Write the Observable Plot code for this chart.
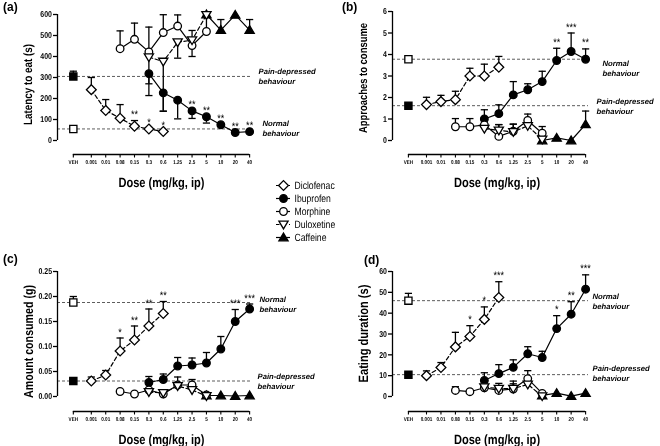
<!DOCTYPE html>
<html><head><meta charset="utf-8">
<script src="https://cdn.jsdelivr.net/npm/d3@7"></script>
<script src="https://cdn.jsdelivr.net/npm/@observablehq/plot@0.6"></script>
<style>
body{margin:0;background:#fff;}
#fig{position:relative;width:660px;height:446px;overflow:hidden;background:#fff;}
#fig .pl{position:absolute;will-change:transform;}
#fig .pl svg{overflow:visible;}
#fig text{text-rendering:geometricPrecision;}
#fig .lab{position:absolute;font-family:'Liberation Sans',Arial,sans-serif;font-weight:bold;font-size:12px;line-height:12px;}
</style></head><body><div id="fig"></div>
<script>
const FONT = "'Liberation Sans',Arial,sans-serif";
const NARROW = 0.82; // horizontal compression of the reference lettering

// ---------- categories ----------
const doseLabels = ["VEH","0.001","0.01","0.08","0.15","0.3","0.6","1.25","2.5","5","10","20","40"];
const seriesNames = ["Diclofenac","Ibuprofen","Morphine","Duloxetine","Caffeine"];
const dicDoses = ["0.001","0.01","0.08","0.15","0.3","0.6"];
const ibuDoses = ["0.3","0.6","1.25","2.5","5","10","20","40"];
const morDoses = ["0.08","0.15","0.3","0.6","1.25","2.5","5"];
const dulDoses = ["0.3","0.6","1.25","2.5","5"];
const cafDoses = ["5","10","20","40"];

// ---------- (a) Latency to eat (s) ----------
const yTicksA = [0,100,200,300,400,500,600];
const vehA = [55, 305];            // [normal (sham), pain-depressed]
const vehErrA = [0, 25];
const dicA = [242, 143, 106, 68, 55, 43];
const dicErrA = [58, 52, 65, 27, 0, 0];
const dicStarsA = ["","","","**","*","*"];
const ibuA = [318, 227, 192, 141, 113, 75, 38, 42];
const ibuErrA = [-104, -88, -89, -36, -30, 0, 0, 0];
const ibuStarsA = ["","","","**","**","**","**","**"];
const morA = [437, 482, 422, 514, 545, 452, 519];
const morErrA = [85, 77, 118, 85, 53, 72, 80];
const dulA = [397, 376, 468, 478, 598];
const dulErrA = [-127, -236, -76, -78, 0];
const cafA = [600, 526, 598, 526];
const cafErrA = [0, 50, 0, 50];

// ---------- (b) Approaches to consume ----------
const yTicksB = [0,1,2,3,4,5,6];
const vehB = [3.78, 1.62];
const vehErrB = [0.08, 0];
const dicB = [1.67, 1.81, 1.9, 3.0, 3.0, 3.41];
const dicErrB = [0.34, 0.29, 0.39, 0.36, 0.55, 0.5];
const ibuB = [1.0, 1.25, 2.12, 2.36, 2.74, 3.72, 4.14, 3.78];
const ibuErrB = [0.43, 0.41, 0.62, 0.28, 0.48, 0.57, 0.86, 0.48];
const ibuStarsB = ["","","","","","**","***","**"];
const morB = [0.64, 0.64, 0.73, 0.19, 0.43, 0.93, 0.34];
const morErrB = [0.38, 0.38, 0.3, 0.55, 0.33, 0.3, 0.31];
const dulB = [0.55, 0.47, 0.4, 0.68, 0.05];
const dulErrB = [0.2, 0.27, 0.36, 0.3, 0];
const cafB = [0.0, 0.12, 0.0, 0.75];
const cafErrB = [0, 0, 0, 0.62];

// ---------- (c) Amount consumed (g) ----------
const yTicksC = [0,0.05,0.10,0.15,0.20,0.25];
const vehC = [0.188, 0.031];
const vehErrC = [0.012, 0.004];
const dicC = [0.031, 0.043, 0.091, 0.113, 0.141, 0.166];
const dicErrC = [0.008, 0.009, 0.026, 0.028, 0.034, 0.024];
const dicStarsC = ["","","*","**","**","**"];
const ibuC = [0.028, 0.034, 0.061, 0.063, 0.067, 0.095, 0.15, 0.175];
const ibuErrC = [0.012, 0.011, 0.017, 0.014, 0.021, 0.025, 0.024, 0.01];
const ibuStarsC = ["","","","","","","***","***"];
const morC = [0.01, 0.005, 0.013, 0.005, 0.023, 0.023, 0.003];
const morErrC = [0, 0, 0, 0, 0.016, 0.011, 0];
const dulC = [0.009, 0.007, 0.021, 0.013, 0.001];
const dulErrC = [0.005, 0.004, 0.005, 0.01, 0];
const cafC = [0.002, 0.002, 0.001, 0.002];
const cafErrC = [0, 0, 0, 0];

// ---------- (d) Eating duration (s) ----------
const yTicksD = [0,10,20,30,40,50,60];
const vehD = [46, 10.5];
const vehErrD = [3.5, 1];
const dicD = [10, 13.9, 23.8, 28.8, 37, 47.5];
const dicErrD = [2.3, 2.4, 7, 5.2, 6, 7.6];
const dicStarsD = ["","","","*","*","***"];
const ibuD = [7.7, 11, 14, 20.5, 18.7, 32.6, 39.5, 51.5];
const ibuErrD = [3.7, 4.3, 3.6, 3.4, 3, 6.2, 6, 6.9];
const ibuStarsD = ["","","","","","*","**","***"];
const morD = [2.9, 2.3, 4.2, 2.9, 3.6, 8.6, 1.5];
const morErrD = [1.8, 0, 0, 2, 2.5, 3.8, 0];
const dulD = [4.5, 3.8, 3.8, 5.8, 0.2];
const dulErrD = [1.5, 2.5, 3.6, 2, 0];
const cafD = [0.5, 1.6, 0.2, 1.6];
const cafErrD = [0, 0, 0, 0];

// ---------- symbols ----------
const sym = f => ({draw(c){ f(c); }});
const CIRCLE = sym(c => { c.moveTo(3.8,0); c.arc(0,0,3.8,0,2*Math.PI); });
const SQUARE = sym(c => { c.moveTo(-3.6,-3.6); c.lineTo(3.6,-3.6); c.lineTo(3.6,3.6); c.lineTo(-3.6,3.6); c.closePath(); });
const DIAMOND = sym(c => { c.moveTo(0,-4.9); c.lineTo(4.9,0); c.lineTo(0,4.9); c.lineTo(-4.9,0); c.closePath(); });
const TRI_UP = sym(c => { c.moveTo(0,-4.4); c.lineTo(4.6,3.3); c.lineTo(-4.6,3.3); c.closePath(); });
const TRI_DOWN = sym(c => { c.moveTo(0,4.4); c.lineTo(4.6,-3.3); c.lineTo(-4.6,-3.3); c.closePath(); });
const CAP = sym(c => { c.moveTo(-3.6,0); c.lineTo(3.6,0); });

const styles = {
  Diclofenac: {doses: dicDoses, symbol: DIAMOND, fill: "white", dash: "4,2.5"},
  Ibuprofen:  {doses: ibuDoses, symbol: CIRCLE,  fill: "black", dash: null},
  Morphine:   {doses: morDoses, symbol: CIRCLE,  fill: "white", dash: null},
  Duloxetine: {doses: dulDoses, symbol: TRI_DOWN, fill: "white", dash: "4,2.5"},
  Caffeine:   {doses: cafDoses, symbol: TRI_UP,  fill: "black", dash: null}
};
const drawOrder = ["Caffeine","Ibuprofen","Diclofenac","Morphine","Duloxetine"];

const VEH_POS = -1.25;
const xPos = lbl => lbl === "VEH" ? VEH_POS : doseLabels.indexOf(lbl) - 1;
const X_DOMAIN = [-2.35, 11.2];

const panels = [
  {id:"(a)", left:0, top:0, height:200, ml:57, mr:78, mt:14, mb:46, yDomain:[-66.7,600], yTicks:yTicksA, yFmt:d=>String(d),
   yTitle:"Latency to eat (s)", yTitleSize:12, yTitleDy:0, veh:vehA, vehErr:vehErrA,
   series:[[dicA,dicErrA,dicStarsA],[ibuA,ibuErrA,ibuStarsA],[morA,morErrA,null],[dulA,dulErrA,null],[cafA,cafErrA,null]],
   normal:{dx:10, dy:-1}, pain:{dx:6, dy:-1}, lab:{x:3, y:1}},
  {id:"(b)", left:330, top:0, height:200, ml:62, mr:72, mt:11, mb:46, yDomain:[-0.651,6], yTicks:yTicksB, yFmt:d=>String(d),
   yTitle:"Approaches to consume", yTitleSize:11.5, yTitleDy:-5, veh:vehB, vehErr:vehErrB,
   series:[[dicB,dicErrB,null],[ibuB,ibuErrB,ibuStarsB],[morB,morErrB,null],[dulB,dulErrB,null],[cafB,cafErrB,null]],
   normal:{dx:14, dy:8.5}, pain:{dx:8, dy:0}, lab:{x:342, y:1}},
  {id:"(c)", left:0, top:200, height:246, ml:57, mr:78, mt:71, mb:35, yDomain:[-0.03,0.25], yTicks:yTicksC, yFmt:d3.format(".2f"),
   yTitle:"Amount consumed (g)", yTitleSize:13, yTitleDy:0, veh:vehC, vehErr:vehErrC,
   series:[[dicC,dicErrC,dicStarsC],[ibuC,ibuErrC,ibuStarsC],[morC,morErrC,null],[dulC,dulErrC,null],[cafC,cafErrC,null]],
   normal:{dx:7, dy:1.5}, pain:{dx:5, dy:0}, lab:{x:3, y:253}},
  {id:"(d)", left:330, top:200, height:246, ml:62, mr:72, mt:71, mb:35, yDomain:[-7.2,60], yTicks:yTicksD, yFmt:d=>String(d),
   yTitle:"Eating duration (s)", yTitleSize:13.5, yTitleDy:-8, veh:vehD, vehErr:vehErrD,
   series:[[dicD,dicErrD,dicStarsD],[ibuD,ibuErrD,ibuStarsD],[morD,morErrD,null],[dulD,dulErrD,null],[cafD,cafErrD,null]],
   normal:{dx:4, dy:0}, pain:{dx:4, dy:-2}, lab:{x:364, y:254}}
];

const fig = document.getElementById("fig");

function buildPanel(p) {
  const rows = [];
  seriesNames.forEach((name, si) => {
    const [mean, err, stars] = p.series[si];
    styles[name].doses.forEach((d, i) => rows.push({name, x: xPos(d), y: mean[i], e: err[i], top: mean[i] + err[i], star: stars ? stars[i] : ""}));
  });
  const veh = [
    {kind:"normal", x: xPos("VEH"), y: p.veh[0], e: p.vehErr[0], top: p.veh[0] + p.vehErr[0]},
    {kind:"pain",   x: xPos("VEH"), y: p.veh[1], e: p.vehErr[1], top: p.veh[1] + p.vehErr[1]}
  ];
  const bars = rows.concat(veh).filter(r => r.e !== 0);
  const yTop = p.yTicks[p.yTicks.length - 1];
  const xLast = xPos(doseLabels[doseLabels.length - 1]);
  const behOpts = {frameAnchor: "right", textAnchor: "start", lineAnchor: "middle", lineHeight: 1.3, fontSize: 7.7, fontStyle: "italic", fontWeight: "bold", className: "beh"};
  const marks = [
    Plot.ruleY(p.veh, {y: d => d, stroke: "#333", strokeWidth: 0.8, strokeDasharray: "3,2"}),
    Plot.ruleX([X_DOMAIN[0]], {x: d => d, y1: () => 0, y2: () => yTop, stroke: "black", strokeWidth: 1.3}),
    Plot.ruleY([p.yDomain[0]], {y: d => d, x1: () => VEH_POS, x2: () => xLast, stroke: "black", strokeWidth: 1.3}),
    Plot.axisY({ticks: p.yTicks, tickFormat: p.yFmt, tickSize: 4, tickPadding: 1.5, fontSize: 8.5, fontWeight: "bold", strokeWidth: 1.3, label: null}),
    Plot.axisX({ticks: doseLabels.map(xPos), tickFormat: v => doseLabels[v === VEH_POS ? 0 : v + 1], tickSize: 3.5, tickPadding: 2.5, fontSize: 5.6, fontWeight: "bold", strokeWidth: 1.1, label: null})
  ];
  drawOrder.forEach(name => {
    const st = styles[name];
    marks.push(Plot.line(rows.filter(r => r.name === name), {x: "x", y: "y", stroke: "black", strokeWidth: 1.2, strokeDasharray: st.dash || undefined}));
  });
  marks.push(Plot.ruleX(bars, {x: "x", y1: "y", y2: "top", stroke: "black", strokeWidth: 1.3}));
  marks.push(Plot.dot(bars, {x: "x", y: "top", symbol: CAP, stroke: "black", fill: "none", strokeWidth: 1.3}));
  drawOrder.forEach(name => {
    const st = styles[name];
    marks.push(Plot.dot(rows.filter(r => r.name === name), {x: "x", y: "y", symbol: st.symbol, fill: st.fill, stroke: "black", strokeWidth: 1.3}));
  });
  marks.push(Plot.dot(veh, {x: "x", y: "y", symbol: SQUARE, fill: d => d.kind === "pain" ? "black" : "white", stroke: "black", strokeWidth: 1.3}));
  marks.push(Plot.text(rows.filter(r => r.star), {x: "x", y: r => Math.max(r.y, r.top), text: "star", dy: -6, fontSize: 11, lineAnchor: "middle", fill: "black"}));
  marks.push(Plot.text([p.veh[0]], {...behOpts, y: d => d, dx: p.normal.dx, dy: p.normal.dy, text: () => "Normal\nbehaviour"}));
  marks.push(Plot.text([p.veh[1]], {...behOpts, y: d => d, dx: p.pain.dx, dy: p.pain.dy, text: () => "Pain-depressed\nbehaviour"}));
  marks.push(Plot.text(["Dose (mg/kg, ip)"], {x: () => (VEH_POS + xLast) / 2, frameAnchor: "bottom", dy: 28, text: d => d, fontSize: 13.5, fontWeight: "bold", lineAnchor: "middle"}));
  marks.push(Plot.text([p.yTitle], {frameAnchor: "left", dx: -29, dy: p.yTitleDy, rotate: -90, text: d => d, fontSize: p.yTitleSize, fontWeight: "bold", lineAnchor: "middle", textAnchor: "middle"}));

  const svg = Plot.plot({
    width: 330, height: p.height,
    marginLeft: p.ml, marginRight: p.mr, marginTop: p.mt, marginBottom: p.mb,
    x: {domain: X_DOMAIN},
    y: {domain: p.yDomain},
    style: {fontFamily: FONT, background: "transparent", color: "black"},
    marks
  });
  const div = document.createElement("div");
  div.className = "pl";
  div.style.left = p.left + "px"; div.style.top = p.top + "px";
  div.appendChild(svg);
  fig.appendChild(div);
  const lab = document.createElement("div");
  lab.className = "lab"; lab.textContent = p.id;
  lab.style.left = p.lab.x + "px"; lab.style.top = p.lab.y + "px";
  fig.appendChild(lab);
}
panels.forEach(buildPanel);

// ---------- legend ----------
const legendMarks = [
  Plot.ruleY(seriesNames.filter(n => styles[n].dash), {y: d => d, x1: () => 11, x2: () => 25, stroke: "black", strokeWidth: 1.2, strokeDasharray: "3.5,3"}),
  Plot.ruleY(seriesNames.filter(n => !styles[n].dash), {y: d => d, x1: () => 11, x2: () => 25, stroke: "black", strokeWidth: 1.2})
];
seriesNames.forEach(n => legendMarks.push(Plot.dot([n], {x: () => 18, y: d => d, symbol: styles[n].symbol, fill: styles[n].fill, stroke: "black", strokeWidth: 1.3})));
legendMarks.push(Plot.text(seriesNames, {x: () => 29, y: d => d, text: d => d, textAnchor: "start", fontSize: 10.5, lineAnchor: "middle"}));
const legend = Plot.plot({
  width: 110, height: 85, margin: 0,
  x: {domain: [0, 110], range: [0, 110], axis: null},
  y: {type: "point", domain: seriesNames, range: [10, 75], axis: null},
  style: {fontFamily: FONT, background: "transparent", color: "black"},
  marks: legendMarks
});
const ld = document.createElement("div");
ld.className = "pl"; ld.style.left = "265px"; ld.style.top = "168px";
ld.appendChild(legend);
fig.appendChild(ld);

// narrow the lettering like the reference (glyphs compressed horizontally)
document.querySelectorAll("#fig svg text").forEach(t => {
  if (t.closest(".beh")) return;
  const spans = t.querySelectorAll("tspan");
  const els = spans.length ? Array.from(spans) : [t];
  els.forEach(el => {
    const L = el.getComputedTextLength();
    if (L > 0) {
      el.setAttribute("textLength", (L * NARROW).toFixed(2));
      el.setAttribute("lengthAdjust", "spacingAndGlyphs");
    }
  });
});
</script>
</body></html>
